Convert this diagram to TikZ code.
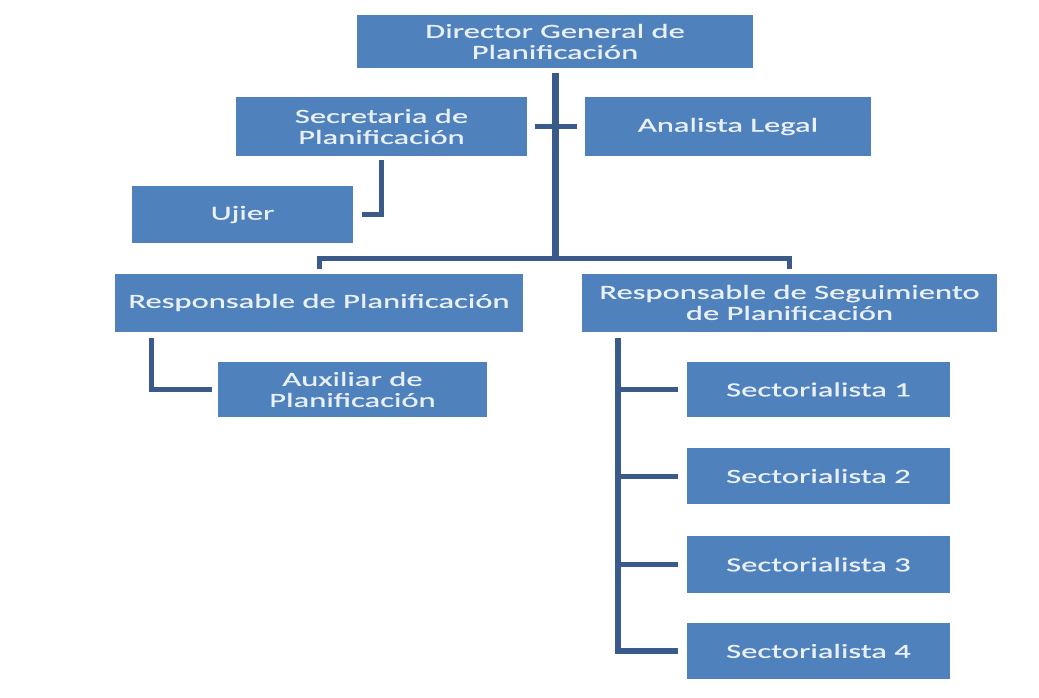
\documentclass[tikz,border=0pt]{standalone}
\usepackage{fontspec}
\setmainfont[FakeStretch=1.63,FakeBold=0.7]{Carlito}
\usepackage{tikz}
\usetikzlibrary{calc}
\definecolor{boxBlue}{HTML}{4F81BD}
\definecolor{lineBlue}{HTML}{3B5A8C}
\definecolor{txtWhite}{HTML}{EAF0F8}
\tikzstyle{box}  = [rectangle,fill=boxBlue,text=txtWhite,align=center,inner sep=0pt,font=\fontsize{20}{21}\selectfont]
\tikzstyle{conn} = [draw=lineBlue,line width=5pt,line join=miter]

\begin{document}
\begin{tikzpicture}[x=1pt,y=-1pt]
	\useasboundingbox (0,0) rectangle (1039,698);
	
	\node[box,minimum width=396pt,minimum height=53pt] (dir) at (555,41.5) {Director General de\\Planificación};
	\node[box,minimum width=291pt,minimum height=59pt] (sec) at (381.5,126.5) {Secretaria de\\Planificación};
	\node[box,minimum width=286pt,minimum height=59pt] (ana) at (728,126.5) {Analista Legal};
	\node[box,minimum width=221pt,minimum height=57pt] (uji) at (242.5,214.5) {Ujier};
	
	\node[box,minimum width=408pt,minimum height=58pt] (rpl) at (319,302.5) {Responsable de Planificación};
	\node[box,minimum width=415pt,minimum height=58pt] (rsg) at (789.5,302.5) {Responsable de Seguimiento\\de Planificación};
	\node[box,minimum width=269pt,minimum height=55pt] (aux) at (352.5,389.5) {Auxiliar de\\Planificación};
	
	\node[box,minimum width=263pt,minimum height=55pt] (s1) at (818.5,389.5) {Sectorialista 1};
	\node[box,minimum width=263pt,minimum height=56pt] (s2) at (818.5,476) {Sectorialista 2};
	\node[box,minimum width=263pt,minimum height=57pt] (s3) at (818.5,564.5) {Sectorialista 3};
	\node[box,minimum width=263pt,minimum height=56pt] (s4) at (818.5,651) {Sectorialista 4};
	
	\coordinate (bus) at (555,258);
	\coordinate (spine) at ([shift={(36pt,-6pt)}]rsg.south west);
	
	\path[conn,line width=7pt] ([yshift=-5pt]dir.south) -- ([yshift=-2pt]bus);
	\path[conn] ([xshift=8pt]sec.east) -- ([xshift=-8pt]ana.west);
	\path[conn] ([yshift=-4pt]sec.south) |- ([xshift=9pt]uji.east);
	\path[conn] ([yshift=4pt]rpl.north) |- (bus) -| ([yshift=4pt]rsg.north);
	\path[conn] ([shift={(37pt,-6pt)}]rpl.south west) |- ([xshift=-6pt]aux.west);
	
	\path[conn,line width=6pt] (spine) |- ([xshift=-9pt]s4.west);
	\foreach \i in {1,2,3}
		\path[conn] (spine |- s\i.west) -- ([xshift=-9pt]s\i.west);
\end{tikzpicture}
\end{document}
